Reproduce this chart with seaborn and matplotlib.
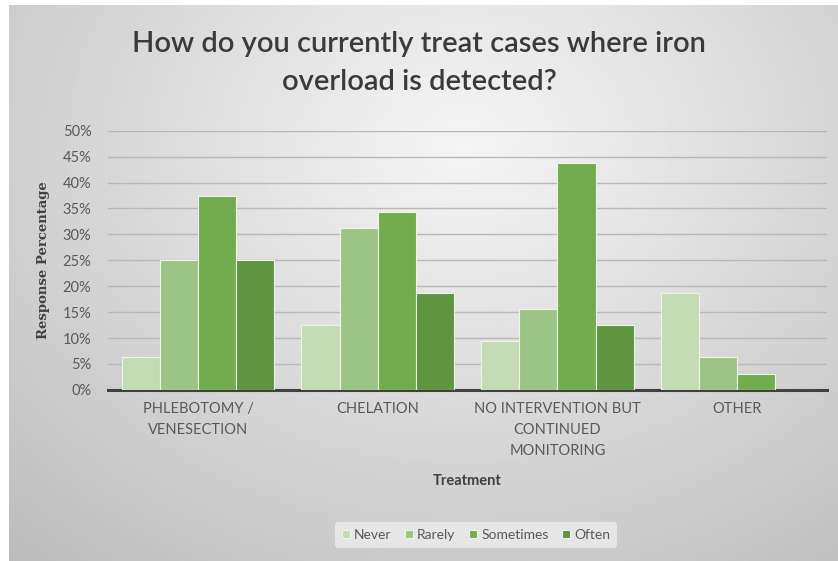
import matplotlib
matplotlib.use('Agg')
import matplotlib.pyplot as plt
import seaborn as sns
import pandas as pd
import numpy as np
from matplotlib.ticker import PercentFormatter

treatments = ['PHLEBOTOMY /\nVENESECTION', 'CHELATION',
              'NO INTERVENTION BUT\nCONTINUED\nMONITORING', 'OTHER']
frequencies = ['Never', 'Rarely', 'Sometimes', 'Often']
never = [6.25, 12.5, 9.4, 18.75]
rarely = [25.0, 31.25, 15.6, 6.25]
sometimes = [37.5, 34.4, 43.75, 3.1]
often = [25.0, 18.75, 12.5, 0.0]
colors = ['#c4dbb4', '#9dc487', '#72ac4e', '#5f9441']

rows = []
for freq, vals in zip(frequencies, [never, rarely, sometimes, often]):
    for t, v in zip(treatments, vals):
        rows.append({'Treatment': t, 'Frequency': freq, 'Pct': v})
df = pd.DataFrame(rows)

sns.set_theme(style='white')
plt.rcParams['font.family'] = ['Lato', 'DejaVu Sans']

fig = plt.figure(figsize=(8.38, 5.61), dpi=100)
fig.patch.set_facecolor('white')

# gradient background of the chart area
bg = fig.add_axes([0.011, 0.0, 0.989, 0.991])
yy, xx = np.mgrid[0:1:200j, 0:1:300j]
r = np.sqrt(((xx - 0.55) / 0.75) ** 2 + ((yy - 0.25) / 0.9) ** 2)
shade = 0.96 - 0.20 * np.clip(r, 0, 1.2)
bg.imshow(shade, cmap='gray', vmin=0, vmax=1, aspect='auto', extent=[0, 1, 0, 1])
bg.set_axis_off()

ax = fig.add_axes([0.129, 0.305, 0.858, 0.462])
ax.patch.set_alpha(0)
sns.barplot(data=df, x='Treatment', y='Pct', hue='Frequency', hue_order=frequencies,
            order=treatments, palette=colors, width=0.85, saturation=1,
            edgecolor='#eef5e8', linewidth=0.8, ax=ax, zorder=3)

ax.set_ylim(0, 50)
ax.set_yticks(np.arange(0, 51, 5))
ax.yaxis.set_major_formatter(PercentFormatter(decimals=0))
ax.grid(axis='y', color='#b8b8b8', linewidth=1.0, zorder=0)
ax.set_axisbelow(True)
for s in ['top', 'right', 'left']:
    ax.spines[s].set_visible(False)
ax.spines['bottom'].set_color('#404040')
ax.spines['bottom'].set_linewidth(2.2)
ax.tick_params(axis='y', length=0, labelsize=10.5, colors='#595959', pad=12)
ax.tick_params(axis='x', length=0, labelsize=10.5, colors='#595959', pad=9)
for lab in ax.get_xticklabels():
    lab.set_horizontalalignment('center')
    lab.set_linespacing(1.6)

ax.set_xlabel('Treatment', fontsize=10.5, fontweight='bold', color='#404040', labelpad=12)
ax.set_ylabel('Response Percentage', fontsize=9.5, fontweight='bold', color='#404040',
              family=['DejaVu Serif'], labelpad=9)

fig.text(0.5, 0.888, 'How do you currently treat cases where iron\noverload is detected?',
         ha='center', va='center', fontsize=21, fontweight='semibold', color='#3a3a3a',
         linespacing=1.6)

leg = ax.legend(loc='center', bbox_to_anchor=(0.512, -0.56), ncol=4, frameon=True,
                fontsize=10, handlelength=0.55, handleheight=0.55, handletextpad=0.3,
                columnspacing=1.0, borderpad=0.5)
leg.get_frame().set_facecolor('#e9e9e9')
leg.get_frame().set_edgecolor('none')
leg.get_frame().set_alpha(0.9)
for t in leg.get_texts():
    t.set_color('#595959')

fig.savefig('out.png', dpi=100)
